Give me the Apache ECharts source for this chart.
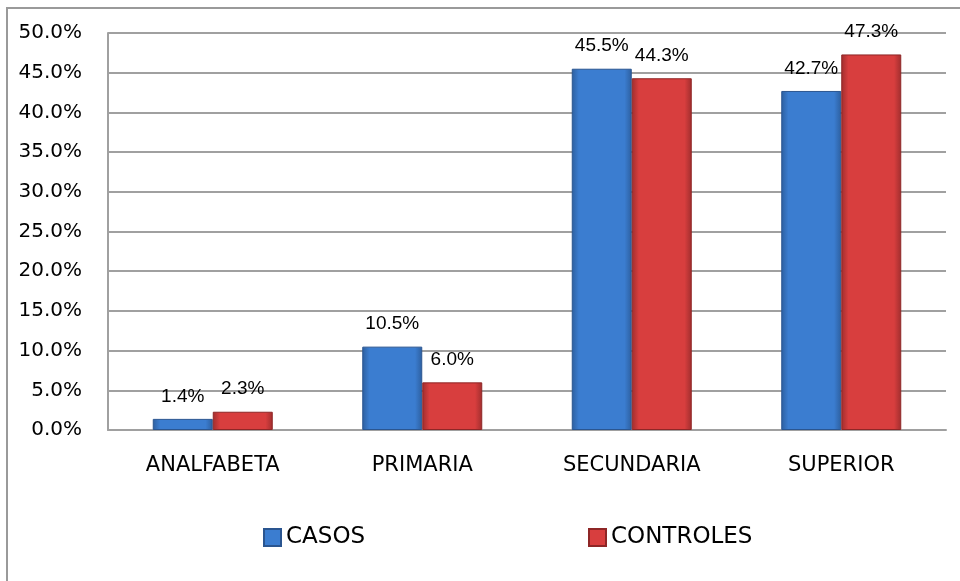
<!DOCTYPE html>
<html>
<head>
<meta charset="utf-8">
<script src="https://cdn.jsdelivr.net/npm/echarts@6/dist/echarts.min.js"></script>
<style>
  html, body { margin: 0; padding: 0; background: #fff; }
  #chart { width: 960px; height: 581px; }
</style>
</head>
<body>
<div id="chart"></div>
<script>
const categories = ['ANALFABETA', 'PRIMARIA', 'SECUNDARIA', 'SUPERIOR']
const casos = [1.4, 10.5, 45.5, 42.7]
const controles = [2.3, 6.0, 44.3, 47.3]
const seriesNames = ['CASOS', 'CONTROLES']

// horizontal gradient to mimic the bevelled excel bars
function barColor(edge, mid) {
  return new echarts.graphic.LinearGradient(0, 0, 1, 0, [
    { offset: 0, color: edge },
    { offset: 0.12, color: mid },
    { offset: 0.88, color: mid },
    { offset: 1, color: edge }
  ])
}

const labelStyle = {
  show: true,
  position: 'top',
  distance: 13,
  color: '#000',
  fontFamily: 'Liberation Sans, Arial, sans-serif',
  fontSize: 19,
  formatter: p => p.value.toFixed(1) + '%'
}

const legendText = { color: '#000', fontFamily: 'DejaVu Sans', fontSize: 23 }

const chart = echarts.init(document.getElementById('chart'))
chart.setOption({
  animation: false,
  backgroundColor: '#fff',
  graphic: [{
    type: 'rect',
    z: -10,
    shape: { x: 7, y: 8, width: 1000, height: 1000 },
    style: { fill: 'none', stroke: '#9a9a9a', lineWidth: 2 }
  }],
  legend: [{
    data: [seriesNames[0]],
    left: 258,
    top: 521,
    icon: 'rect',
    itemWidth: 17,
    itemHeight: 17,
    textStyle: legendText
  }, {
    data: [seriesNames[1]],
    left: 583,
    top: 521,
    icon: 'rect',
    itemWidth: 17,
    itemHeight: 17,
    textStyle: legendText
  }],
  grid: {
    left: 108,
    right: 14,
    top: 33,
    bottom: 151
  },
  xAxis: {
    type: 'category',
    data: categories,
    axisTick: { show: false },
    axisLine: { lineStyle: { color: '#a0a0a0', width: 2 } },
    axisLabel: {
      color: '#000',
      fontFamily: 'DejaVu Sans',
      fontSize: 21,
      margin: 25
    }
  },
  yAxis: {
    type: 'value',
    min: 0,
    max: 50,
    interval: 5,
    axisLine: { show: true, lineStyle: { color: '#a0a0a0', width: 2 } },
    axisTick: { show: false },
    splitLine: { lineStyle: { color: '#a0a0a0', width: 2 } },
    axisLabel: {
      color: '#000',
      fontFamily: 'DejaVu Sans',
      fontSize: 20,
      margin: 26,
      formatter: v => v.toFixed(1) + '%'
    }
  },
  series: [
    {
      name: seriesNames[0],
      type: 'bar',
      data: casos,
      barWidth: 60,
      barGap: '0%',
      itemStyle: {
        color: barColor('#2d5f9f', '#3b7dd0'),
        borderColor: '#2a5590',
        borderWidth: 1
      },
      label: labelStyle
    },
    {
      name: seriesNames[1],
      type: 'bar',
      data: controles,
      barWidth: 60,
      itemStyle: {
        color: barColor('#a02e2e', '#d83e3e'),
        borderColor: '#8e2626',
        borderWidth: 1
      },
      label: labelStyle
    }
  ]
})
</script>
</body>
</html>
